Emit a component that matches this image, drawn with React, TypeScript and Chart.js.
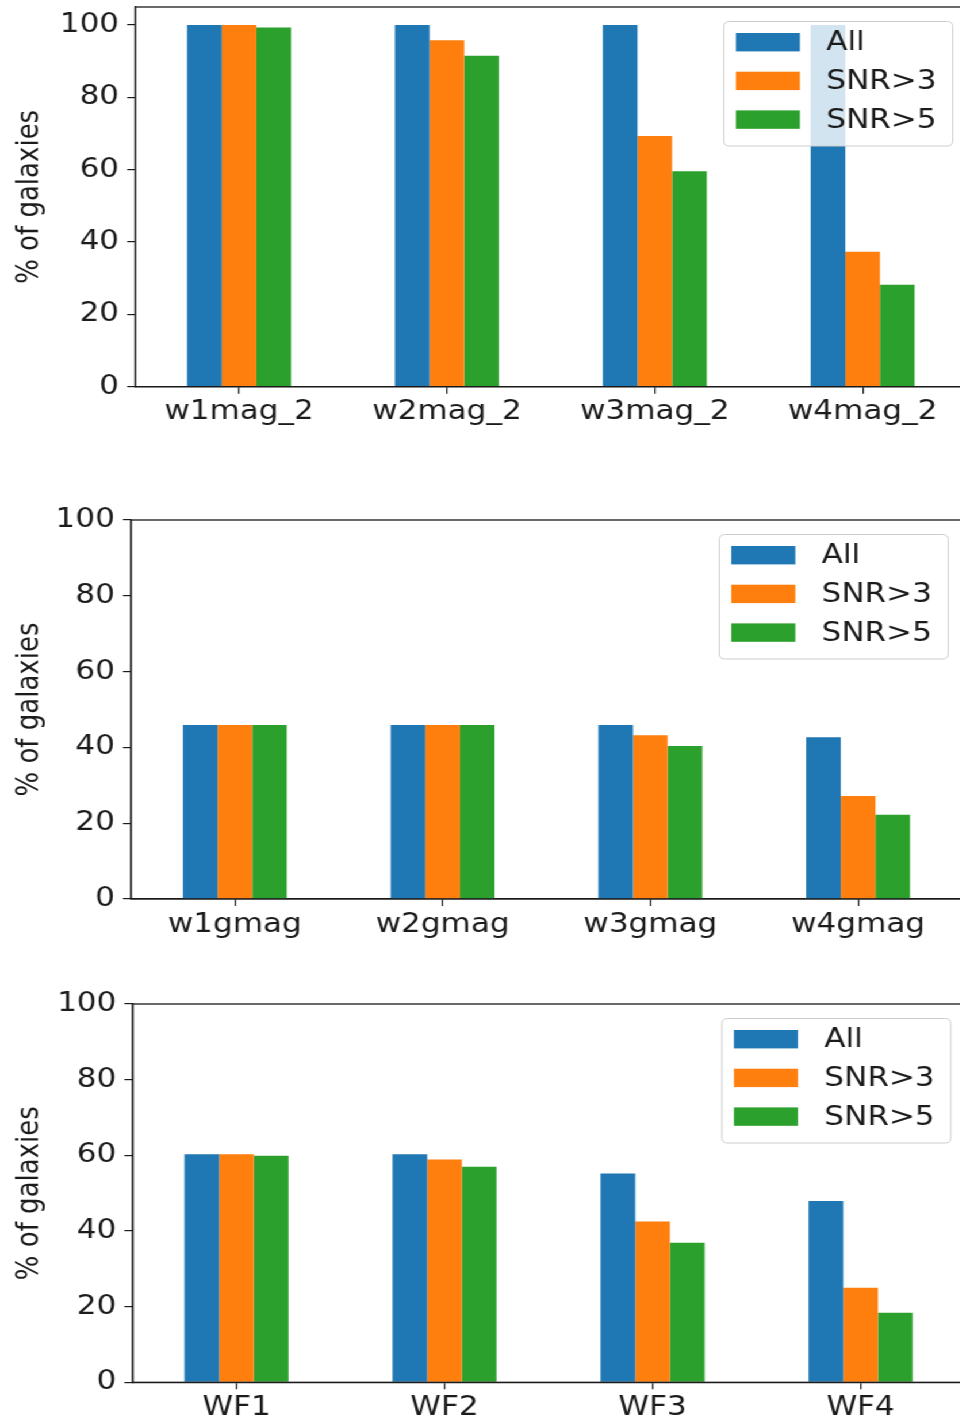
import React, { useEffect, useRef } from 'react';
import { Chart, registerables } from 'chart.js';

Chart.register(...registerables);

// Series shared by all three panels
const SERIES_NAMES = ['All', 'SNR>3', 'SNR>5'];
const SERIES_COLORS = ['#1f77b4', '#ff7f0e', '#2ca02c'];

// Panel 1: WISE magnitudes
const magCategories = ['w1mag_2', 'w2mag_2', 'w3mag_2', 'w4mag_2'];
const magAll = [100, 100, 100, 100];
const magSnr3 = [100, 95.8, 69.3, 37.3];
const magSnr5 = [99.3, 91.5, 59.6, 28.2];

// Panel 2: gmag columns
const gmagCategories = ['w1gmag', 'w2gmag', 'w3gmag', 'w4gmag'];
const gmagAll = [45.9, 45.9, 45.9, 42.7];
const gmagSnr3 = [45.9, 45.9, 43.2, 27.2];
const gmagSnr5 = [45.9, 45.9, 40.4, 22.2];

// Panel 3: WF fluxes
const wfCategories = ['WF1', 'WF2', 'WF3', 'WF4'];
const wfAll = [60.3, 60.3, 55.2, 47.9];
const wfSnr3 = [60.3, 58.9, 42.5, 25.0];
const wfSnr5 = [59.9, 57.0, 36.9, 18.4];

const yTickValues = [0, 20, 40, 60, 80, 100];

const FONT = "'DejaVu Sans', 'Liberation Sans', sans-serif";
const INK = '#1b1b1b';
const STRETCH = 1.15;
const CANVAS_W = 860;

interface PanelSpec {
  id: string;
  categories: string[];
  series: number[][];
  yMax: number;
  top: number;
  height: number;
  left: number;
  right: number;
  plotTop: number;
  plotBottom: number;
}

const PANELS: PanelSpec[] = [
  {
    id: 'mag',
    categories: magCategories,
    series: [magAll, magSnr3, magSnr5],
    yMax: 105,
    top: 0,
    height: 465,
    left: 117.5,
    right: 840.5,
    plotTop: 7,
    plotBottom: 386.7,
  },
  {
    id: 'gmag',
    categories: gmagCategories,
    series: [gmagAll, gmagSnr3, gmagSnr5],
    yMax: 100,
    top: 465,
    height: 480,
    left: 113.9,
    right: 836.5,
    plotTop: 55,
    plotBottom: 434,
  },
  {
    id: 'wf',
    categories: wfCategories,
    series: [wfAll, wfSnr3, wfSnr5],
    yMax: 100,
    top: 945,
    height: 478,
    left: 115.2,
    right: 838.8,
    plotTop: 59,
    plotBottom: 437.3,
  },
];

// Closed box around the plotting area (top and right spines included)
const framePlugin = {
  id: 'frameBox',
  afterDatasetsDraw(chart: any) {
    const { ctx, chartArea: a } = chart;
    ctx.save();
    ctx.strokeStyle = INK;
    ctx.lineWidth = 1.3;
    ctx.strokeRect(a.left, a.top, a.right - a.left, a.bottom - a.top);
    ctx.restore();
  },
};

// Upper-right legend box with semi-transparent white fill
const legendBoxPlugin = {
  id: 'legendBox',
  afterDraw(chart: any) {
    const { ctx, chartArea: a } = chart;
    const bw = 199;
    const bh = 124.5;
    const x0 = a.right - 12 - bw;
    const y0 = a.top + 14.5;
    const r = 5;
    ctx.save();
    ctx.beginPath();
    ctx.moveTo(x0 + r, y0);
    ctx.lineTo(x0 + bw - r, y0);
    ctx.quadraticCurveTo(x0 + bw, y0, x0 + bw, y0 + r);
    ctx.lineTo(x0 + bw, y0 + bh - r);
    ctx.quadraticCurveTo(x0 + bw, y0 + bh, x0 + bw - r, y0 + bh);
    ctx.lineTo(x0 + r, y0 + bh);
    ctx.quadraticCurveTo(x0, y0 + bh, x0, y0 + bh - r);
    ctx.lineTo(x0, y0 + r);
    ctx.quadraticCurveTo(x0, y0, x0 + r, y0);
    ctx.closePath();
    ctx.fillStyle = 'rgba(255,255,255,0.8)';
    ctx.fill();
    ctx.strokeStyle = '#cccccc';
    ctx.lineWidth = 1;
    ctx.stroke();

    ctx.font = `27px ${FONT}`;
    ctx.textBaseline = 'middle';
    ctx.textAlign = 'left';
    chart.data.datasets.forEach((ds: any, i: number) => {
      const cy = y0 + 20.7 + i * 38.7;
      ctx.fillStyle = ds.backgroundColor;
      ctx.fillRect(x0 + 10.4, cy - 9.2, 55.7, 18.4);
      ctx.fillStyle = INK;
      ctx.fillText(ds.label, x0 + 89, cy + 1);
    });
    ctx.restore();
  },
};

function Panel({ spec }: { spec: PanelSpec }) {
  const ref = useRef<HTMLCanvasElement>(null);

  useEffect(() => {
    const canvas = ref.current;
    if (!canvas) return;
    const axisGrid = {
      display: true,
      drawOnChartArea: false,
      drawTicks: true,
      tickLength: 7,
      color: INK,
      lineWidth: 1.2,
    };
    const chart = new Chart(canvas, {
      type: 'bar',
      data: {
        labels: spec.categories,
        datasets: spec.series.map((values, i) => ({
          label: SERIES_NAMES[i],
          data: values,
          backgroundColor: SERIES_COLORS[i],
          borderWidth: 0,
          barPercentage: 1,
          categoryPercentage: 0.5,
        })),
      },
      options: {
        animation: false,
        responsive: false,
        devicePixelRatio: 1,
        layout: {
          padding: { top: spec.plotTop, right: CANVAS_W - spec.right, left: 0, bottom: 0 },
        },
        plugins: {
          legend: { display: false },
          tooltip: { enabled: false },
        },
        scales: {
          x: {
            type: 'category',
            offset: true,
            grid: { ...axisGrid, offset: false },
            border: { display: true, color: INK, width: 1.3 },
            ticks: {
              font: { family: FONT, size: 27, lineHeight: 1 },
              color: INK,
              padding: 5,
              maxRotation: 0,
              autoSkip: false,
            },
            afterFit: (s: any) => {
              s.height = spec.height - spec.plotBottom;
              s.paddingLeft = 0;
              s.paddingRight = 0;
            },
          },
          y: {
            type: 'linear',
            min: 0,
            max: spec.yMax,
            grid: axisGrid,
            border: { display: true, color: INK, width: 1.3 },
            ticks: {
              stepSize: 20,
              font: { family: FONT, size: 27 },
              color: INK,
              padding: 7,
            },
            afterBuildTicks: (s: any) => {
              s.ticks = yTickValues.map((v) => ({ value: v }));
            },
            afterFit: (s: any) => {
              s.width = spec.left;
              s.paddingTop = 0;
              s.paddingBottom = 0;
            },
            title: {
              display: true,
              text: '% of galaxies',
              font: { family: FONT, size: 26 },
              color: INK,
              padding: { top: 11, bottom: 0 },
            },
          },
        },
      } as any,
      plugins: [framePlugin, legendBoxPlugin],
    });
    return () => chart.destroy();
  }, [spec]);

  return (
    <canvas
      ref={ref}
      width={CANVAS_W}
      height={spec.height}
      style={{
        position: 'absolute',
        left: 0,
        top: spec.top,
        width: CANVAS_W,
        height: spec.height,
        display: 'block',
      }}
    />
  );
}

export default function App() {
  return (
    <div
      style={{
        position: 'absolute',
        left: 0,
        top: 0,
        width: 960,
        height: 1423,
        overflow: 'hidden',
        background: '#ffffff',
      }}
    >
      <div
        style={{
          position: 'absolute',
          left: 0,
          top: 0,
          width: CANVAS_W,
          height: 1423,
          transform: `scaleX(${STRETCH})`,
          transformOrigin: '0 0',
        }}
      >
        {PANELS.map((p) => (
          <Panel key={p.id} spec={p} />
        ))}
      </div>
    </div>
  );
}
